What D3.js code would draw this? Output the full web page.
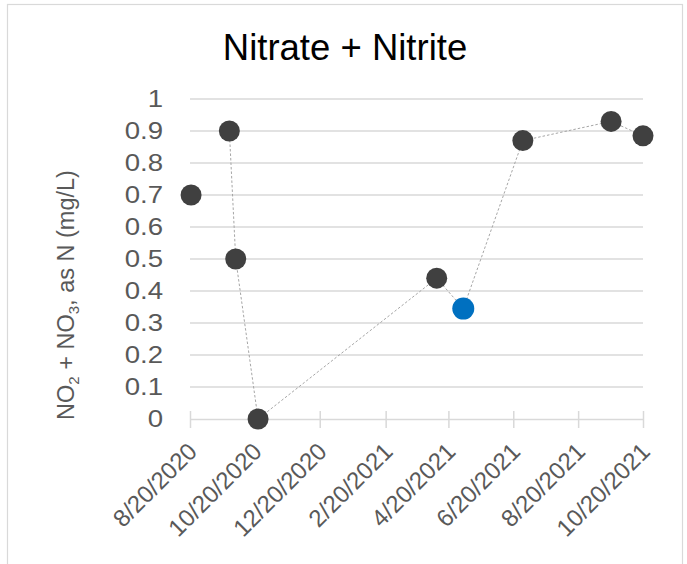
<!DOCTYPE html>
<html>
<head>
<meta charset="UTF-8">
<title>Nitrate + Nitrite</title>
<script src="https://d3js.org/d3.v7.min.js"></script>
<style>
  body { margin: 0; background: #fff; }
  text { font-family: "Liberation Sans", Arial, sans-serif; }
  .grid line { stroke: #d9d9d9; stroke-width: 1.5; }
  .x.axis path, .x.axis line { stroke: #d9d9d9; stroke-width: 1.5; }
  .axis text { fill: #595959; }
</style>
</head>
<body>
<svg id="chart"></svg>
<script>
// ===== data =====
var sampleDates = ["2020-08-21", "2020-09-26", "2020-10-02", "2020-10-23", "2021-04-09",
                   "2021-05-04", "2021-06-29", "2021-09-20", "2021-10-20"];
var nitrateNitrite = [0.70, 0.90, 0.50, 0.00, 0.44, 0.345, 0.87, 0.93, 0.885];
var highlighted = [0, 0, 0, 0, 0, 1, 0, 0, 0];   // blue sample
var joined = [0, 1, 1, 1, 1, 1, 1, 1, 1];        // first sample not on the dashed line
var xTickLabels = ["8/20/2020", "10/20/2020", "12/20/2020", "2/20/2021", "4/20/2021",
                   "6/20/2021", "8/20/2021", "10/20/2021"];
var yTicks = [0, 0.1, 0.2, 0.3, 0.4, 0.5, 0.6, 0.7, 0.8, 0.9, 1];

var W = 687, H = 564;
var margin = {top: 99, right: 44, bottom: 145, left: 190};

var parseIso = d3.timeParse("%Y-%m-%d");
var parseLabel = d3.timeParse("%m/%d/%Y");
var fmt = d3.timeFormat("%-m/%-d/%Y");

var data = sampleDates.map(function(d, i) {
  return {date: parseIso(d), value: nitrateNitrite[i], hi: highlighted[i], joined: joined[i]};
});
var tickDates = xTickLabels.map(function(s) { return parseLabel(s); });

var svg = d3.select("#chart").attr("width", W).attr("height", H);

svg.append("rect")
  .attr("x", 7.5).attr("y", 4.5)
  .attr("width", 675).attr("height", 600)
  .attr("fill", "#fff").attr("stroke", "#d9d9d9").attr("stroke-width", 1.2);

var x = d3.scaleTime()
  .domain([tickDates[0], tickDates[tickDates.length - 1]])
  .range([margin.left, W - margin.right]);

var y = d3.scaleLinear()
  .domain([0, 1])
  .range([H - margin.bottom, margin.top]);

//==== gridlines ====
svg.append("g").attr("class", "grid")
  .selectAll("line").data(yTicks.slice(1)).enter().append("line")
  .attr("x1", x.range()[0]).attr("x2", x.range()[1])
  .attr("y1", function(d) { return y(d); }).attr("y2", function(d) { return y(d); });

//==== x axis (Excel style cross ticks) ====
var xAxis = d3.axisBottom(x)
  .tickValues(tickDates)
  .tickFormat(fmt)
  .tickSizeInner(9).tickSizeOuter(0);

var gx = svg.append("g")
  .attr("class", "x axis")
  .attr("transform", "translate(0," + y(0) + ")")
  .call(xAxis);
gx.selectAll(".tick line").attr("y1", -8).attr("y2", 9);
gx.selectAll(".tick text")
  .attr("font-size", 24)
  .attr("text-anchor", "end")
  .attr("x", 0).attr("y", 0).attr("dy", "0.35em")
  .attr("transform", "translate(2,28) rotate(-45)");

//==== y axis labels ====
var yAxis = d3.axisLeft(y).tickValues(yTicks).tickFormat(d3.format("~g")).tickSize(0);
var gy = svg.append("g")
  .attr("class", "y axis")
  .attr("transform", "translate(" + (margin.left - 27) + ",0)")
  .call(yAxis);
gy.select(".domain").remove();
gy.selectAll(".tick text").attr("font-size", 24).attr("x", 0)
  .attr("transform", "scale(1.15,1)");

//==== dashed connector ====
var line = d3.line()
  .x(function(d) { return x(d.date); })
  .y(function(d) { return y(d.value); });

svg.append("path")
  .datum(data.filter(function(d) { return d.joined; }))
  .attr("d", line)
  .attr("fill", "none")
  .attr("stroke", "#a6a6a6")
  .attr("stroke-width", 1)
  .attr("stroke-dasharray", "2.5,2");

//==== markers ====
svg.append("g").selectAll("circle").data(data).enter().append("circle")
  .attr("cx", function(d) { return x(d.date); })
  .attr("cy", function(d) { return y(d.value); })
  .attr("r", function(d) { return d.hi ? 11 : 10.5; })
  .attr("fill", function(d) { return d.hi ? "#0070c0" : "#404040"; });

//==== titles ====
svg.append("text")
  .attr("x", 345).attr("y", 59.5)
  .attr("text-anchor", "middle")
  .attr("font-size", 36.5)
  .attr("fill", "#000")
  .text("Nitrate + Nitrite");

var yt = svg.append("text")
  .attr("transform", "translate(74,295) rotate(-90)")
  .attr("text-anchor", "middle")
  .attr("font-size", 23.5)
  .attr("fill", "#595959");
yt.append("tspan").text("NO");
yt.append("tspan").attr("font-size", 15).attr("dy", 5).text("2");
yt.append("tspan").attr("dy", -5).text(" + NO");
yt.append("tspan").attr("font-size", 15).attr("dy", 5).text("3");
yt.append("tspan").attr("dy", -5).text(", as N (mg/L)");
</script>
</body>
</html>
